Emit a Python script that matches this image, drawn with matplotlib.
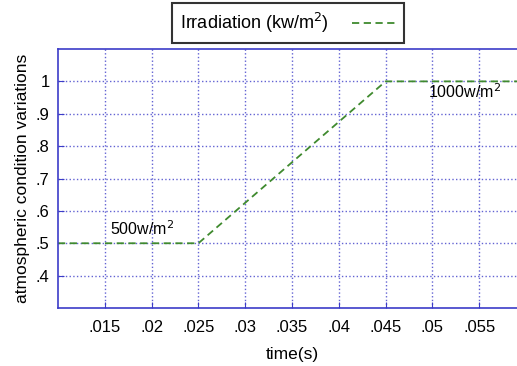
import numpy as np
import matplotlib
matplotlib.use('Agg')
import matplotlib.pyplot as plt

# irradiation profile (time in s, value in kW/m^2)
time_s = [0.01, 0.025, 0.045, 0.06]
irradiation = [0.5, 0.5, 1.0, 1.0]

x_ticks = [0.015, 0.02, 0.025, 0.03, 0.035, 0.04, 0.045, 0.05, 0.055]
x_labels = ['.015', '.02', '.025', '.03', '.035', '.04', '.045', '.05', '.055']
y_ticks = [0.4, 0.5, 0.6, 0.7, 0.8, 0.9, 1.0]
y_labels = ['.4', '.5', '.6', '.7', '.8', '.9', '1']

plt.rcParams['font.family'] = ['Liberation Sans', 'DejaVu Sans']

blue = '#3c3cc8'
green = '#3f8a2e'

fig = plt.figure(figsize=(5.17, 3.66), dpi=100)
ax = fig.add_axes([58 / 517, 58 / 366, 468 / 517, 259 / 366])

line, = ax.plot(time_s, irradiation, color=green, linestyle='--', linewidth=1.3,
                dashes=(4, 2.5), label='Irradiation (kw/m$^2$)')

ax.set_xlim(0.01, 0.06)
ax.set_ylim(0.3, 1.1)
ax.set_xticks(x_ticks)
ax.set_xticklabels(x_labels)
ax.set_yticks(y_ticks)
ax.set_yticklabels(y_labels)
ax.tick_params(direction='in', color=blue, length=4, labelsize=12, pad=6)
ax.tick_params(axis='x', pad=9)

ax.grid(True, color=blue, linestyle=':', linewidth=1.0, alpha=0.8)
for side in ['left', 'bottom', 'top']:
    ax.spines[side].set_color(blue)
    ax.spines[side].set_linewidth(1.2)
ax.spines['right'].set_visible(False)

ax.set_xlabel('time(s)', fontsize=12.5, labelpad=8)
ax.set_ylabel('atmospheric condition variations', fontsize=12.5, labelpad=4)

ax.text(0.0156, 0.515, '500w/m$^2$', fontsize=11.5, va='bottom')
ax.text(0.0495, 0.94, '1000w/m$^2$', fontsize=11.5, va='bottom')

leg = fig.legend(handles=[line], loc='center', bbox_to_anchor=(288 / 517, 1 - 23 / 366),
                 fontsize=13, frameon=True, fancybox=False, handlelength=2.4,
                 borderpad=0.45, handletextpad=1.3, markerfirst=False)
leg.get_frame().set_edgecolor('black')
leg.get_frame().set_linewidth(1.5)

fig.savefig('out.png', dpi=100)
